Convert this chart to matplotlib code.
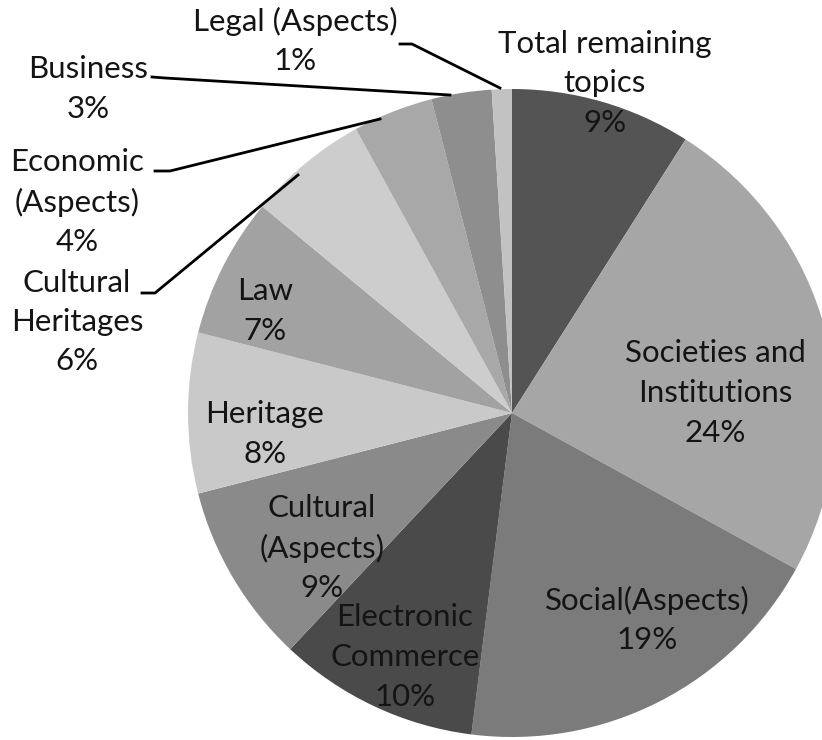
import matplotlib.pyplot as plt

# topic shares (percent), clockwise from 12 o'clock
topics = ['Total remaining\ntopics', 'Societies and\nInstitutions', 'Social(Aspects)',
          'Electronic\nCommerce', 'Cultural\n(Aspects)', 'Heritage', 'Law',
          'Cultural\nHeritages', 'Economic\n(Aspects)', 'Business', 'Legal (Aspects)']
shares = [9, 24, 19, 10, 9, 8, 7, 6, 4, 3, 1]
greys = ['#545454', '#a6a6a6', '#7b7b7b', '#4a4a4a', '#8a8a8a', '#c9c9c9',
         '#a2a2a2', '#cdcdcd', '#a8a8a8', '#8e8e8e', '#c2c2c2']

W, H = 822, 740


def py(y):
    # image rows -> data y (y axis points up)
    return H - y


plt.rcParams['font.family'] = ['Lato', 'DejaVu Sans']

fig = plt.figure(figsize=(W / 100, H / 100), dpi=100)
ax = fig.add_axes([0, 0, 1, 1])

ax.pie(shares, colors=greys, startangle=90, counterclock=False,
       center=(512, py(413)), radius=324, frame=True,
       wedgeprops=dict(linewidth=0))
ax.set_xlim(0, W)
ax.set_ylim(0, H)
ax.set_aspect('equal')
ax.axis('off')

# label positions (x, y of text centre)
label_pos = {
    'Total remaining\ntopics': (605, 83),
    'Societies and\nInstitutions': (715, 393),
    'Social(Aspects)': (647, 620),
    'Electronic\nCommerce': (405, 657),
    'Cultural\n(Aspects)': (322, 548),
    'Heritage': (265, 434),
    'Law': (265, 311),
    'Cultural\nHeritages': (77, 322),
    'Economic\n(Aspects)': (77, 202),
    'Business': (88, 89),
    'Legal (Aspects)': (295, 41),
}
for name, val in zip(topics, shares):
    x, y = label_pos[name]
    ax.text(x, py(y), f'{name}\n{val}%', ha='center', va='center',
            fontsize=22.5, color='#141414', linespacing=1.5)

# leader lines for the thin slices
leaders = [
    [(400, 44), (412, 44), (500, 88)],
    [(152, 77), (165, 78), (450, 95)],
    [(155, 171), (170, 171), (380, 119)],
    [(142, 293), (155, 293), (298, 175)],
]
for pts in leaders:
    xs = [p[0] for p in pts]
    ys = [py(p[1]) for p in pts]
    ax.plot(xs, ys, color='black', linewidth=2)

fig.savefig('out.png', dpi=100)
